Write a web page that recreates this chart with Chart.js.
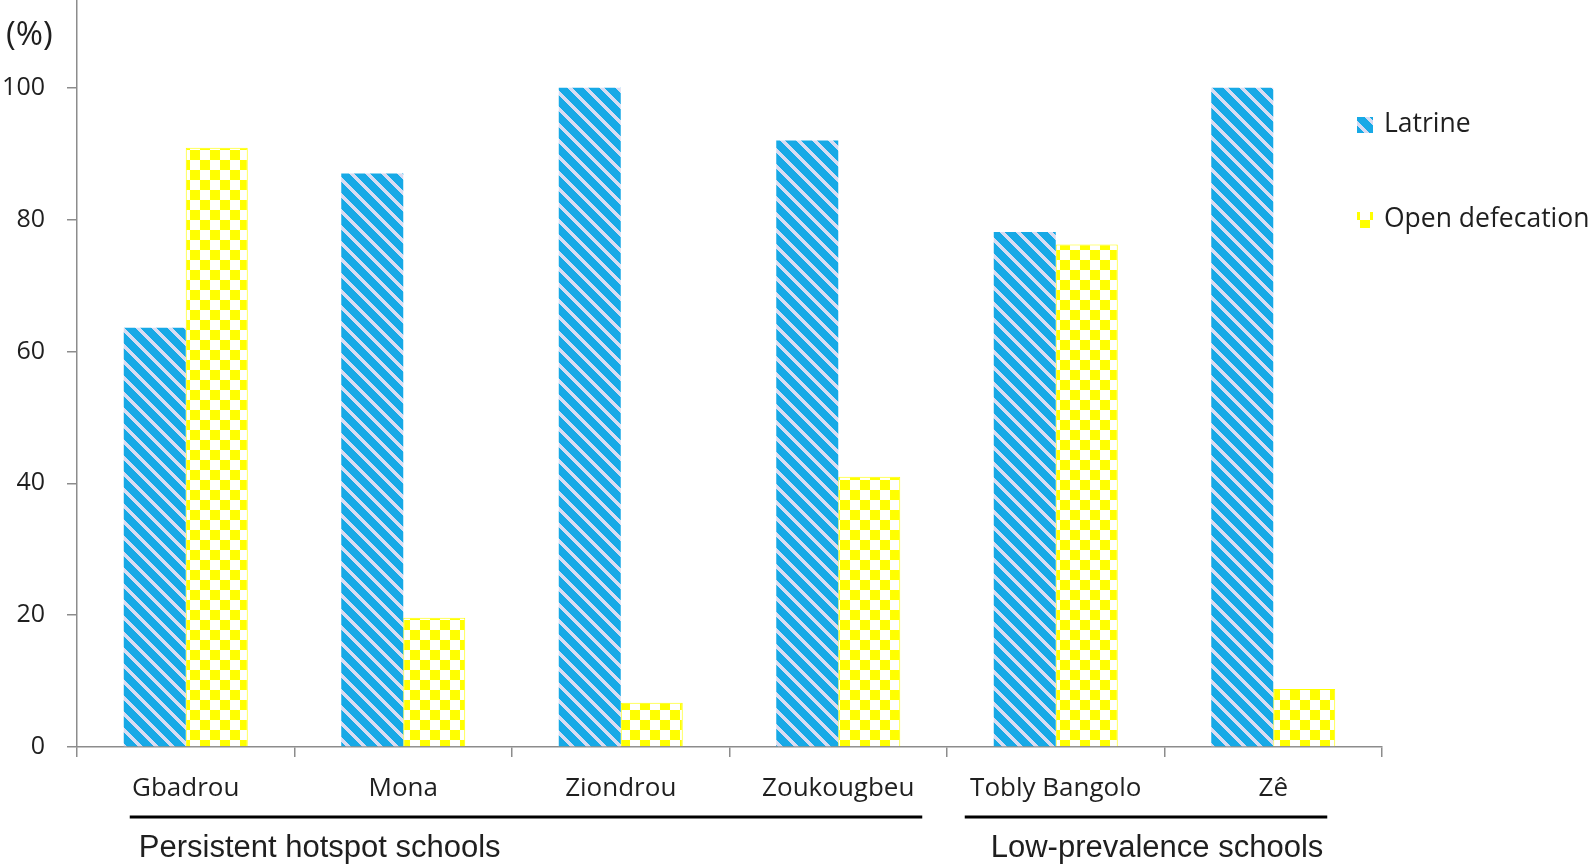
<!DOCTYPE html>
<html>
<head>
<meta charset="utf-8">
<script src="https://cdn.jsdelivr.net/npm/chart.js@4.4.0/dist/chart.umd.min.js"></script>
<style>
  html, body { margin: 0; padding: 0; background: #fff; }
  #wrap { width: 1593px; height: 864px; position: relative; }
</style>
</head>
<body>
<div id="wrap"><canvas id="sanitationChart"></canvas></div>
<script>
const schools = ["Gbadrou", "Mona", "Ziondrou", "Zoukougbeu", "Tobly Bangolo", "Zê"];
const latrine = [63.6, 87.0, 100, 92.0, 78.1, 100];
const openDefecation = [90.9, 19.6, 6.7, 41.0, 76.2, 8.8];
const yTicks = [0, 20, 40, 60, 80, 100];
const groupNames = ["Persistent hotspot schools", "Low-prevalence schools"];
const groupSpans = [[0, 3], [4, 5]];

const axisGray = "#8c8c8c";
const textColor = "#1f1f1f";

// diagonal "\" stripes, drawn pixel by pixel so the tile has no seams
function stripePattern() {
    const s = 16, w = 5;
    const c = document.createElement("canvas");
    c.width = s;
    c.height = s;
    const g = c.getContext("2d");
    const img = g.createImageData(s, s);
    for (let y = 0; y < s; y++) {
        for (let x = 0; x < s; x++) {
            const d = (((x - y) % s) + s) % s;
            const i = (y * s + x) * 4;
            const light = d < w;
            img.data[i] = light ? 216 : 23;
            img.data[i + 1] = light ? 220 : 169;
            img.data[i + 2] = light ? 242 : 230;
            img.data[i + 3] = 255;
        }
    }
    g.putImageData(img, 0, 0);
    return g.createPattern(c, "repeat");
}

function checkerPattern() {
    const c = document.createElement("canvas");
    const s = 10;
    c.width = s * 2;
    c.height = s * 2;
    const g = c.getContext("2d");
    g.fillStyle = "#ffffff";
    g.fillRect(0, 0, s * 2, s * 2);
    g.fillStyle = "#ffff00";
    g.fillRect(0, 0, s, s);
    g.fillRect(s, s, s, s);
    return g.createPattern(c, "repeat");
}

// "(%)", group underlines + captions, and the legend on the right
const decorations = {
    id: "decorations",
    afterDraw(chart) {
        const ctx = chart.ctx;
        const x = chart.scales.x;
        ctx.save();

        ctx.fillStyle = textColor;
        ctx.font = "33px 'Open Sans'";
        ctx.textAlign = "left";
        ctx.textBaseline = "middle";
        ctx.fillText("(%)", 6, 36);

        const lineOffsets = [[-56, 84], [-91, 54]];
        const textOffsets = [-47, -65];
        groupSpans.forEach((span, i) => {
            const a = x.getPixelForValue(span[0]);
            const b = x.getPixelForValue(span[1]);
            ctx.strokeStyle = "#000";
            ctx.lineWidth = 3;
            ctx.beginPath();
            ctx.moveTo(a + lineOffsets[i][0], 817);
            ctx.lineTo(b + lineOffsets[i][1], 817);
            ctx.stroke();
            ctx.fillStyle = textColor;
            ctx.font = "31px 'Liberation Sans'";
            ctx.textAlign = "left";
            ctx.textBaseline = "alphabetic";
            ctx.fillText(groupNames[i], a + textOffsets[i], 857);
        });

        const legendY = [125, 220];
        chart.data.datasets.forEach((ds, i) => {
            ctx.fillStyle = ds.backgroundColor;
            ctx.fillRect(1357, legendY[i] - 8, 16, 16);
            ctx.fillStyle = textColor;
            ctx.font = "26.5px 'Open Sans'";
            ctx.textAlign = "left";
            ctx.textBaseline = "middle";
            ctx.fillText(ds.label, 1384, legendY[i] - 1);
        });
        ctx.restore();
    },
};

const ctx = document.getElementById("sanitationChart");
new Chart(ctx, {
    type: "bar",
    data: {
        labels: schools,
        datasets: [
            {
                label: "Latrine",
                data: latrine,
                backgroundColor: stripePattern(),
                borderWidth: 0,
            },
            {
                label: "Open defecation",
                data: openDefecation,
                backgroundColor: checkerPattern(),
                borderColor: "#ffff00",
                borderWidth: 1,
            },
        ],
    },
    options: {
        responsive: true,
        maintainAspectRatio: false,
        animation: false,
        barPercentage: 1,
        categoryPercentage: 0.57,
        layout: { padding: { top: 0, right: 211, bottom: 0, left: 0 } },
        plugins: { legend: { display: false }, tooltip: { enabled: false } },
        scales: {
            x: {
                offset: true,
                border: { color: axisGray, width: 1.5 },
                grid: {
                    offset: true,
                    drawOnChartArea: false,
                    tickLength: 10,
                    color: axisGray,
                    lineWidth: 1.5,
                },
                ticks: {
                    padding: 16,
                    color: textColor,
                    maxRotation: 0,
                    autoSkip: false,
                    font: { family: "Open Sans", size: 26 },
                },
                afterFit: (s) => {
                    s.height = 117;
                },
            },
            y: {
                min: 0,
                max: 113.3,
                border: { color: axisGray, width: 1.5 },
                grid: {
                    drawOnChartArea: false,
                    tickLength: 10,
                    color: axisGray,
                    lineWidth: 1.5,
                },
                ticks: {
                    padding: 22,
                    color: textColor,
                    font: { family: "Open Sans", size: 25 },
                },
                afterBuildTicks: (s) => {
                    s.ticks = yTicks.map((v) => ({ value: v }));
                },
                afterFit: (s) => {
                    s.width = 77;
                    s.paddingTop = 0;
                    s.paddingBottom = 0;
                },
            },
        },
    },
    plugins: [decorations],
});
</script>
</body>
</html>
